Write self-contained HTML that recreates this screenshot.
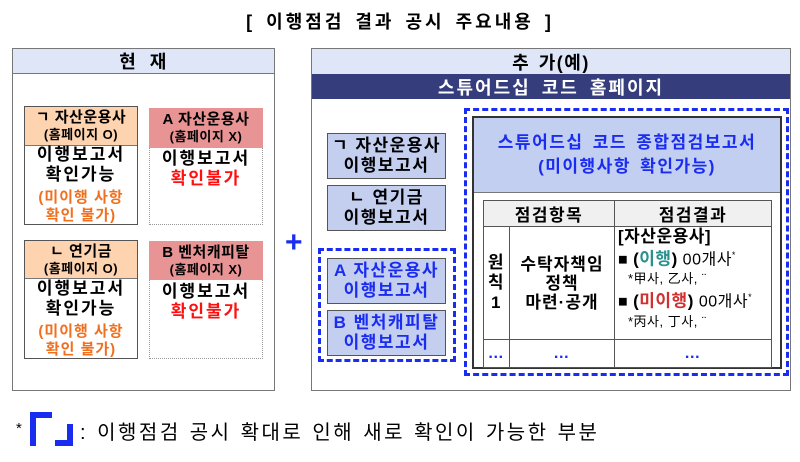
<!DOCTYPE html>
<html><head><meta charset="utf-8"><style>
*{margin:0;padding:0;box-sizing:border-box}
body{width:800px;height:462px;background:#fff;position:relative;overflow:hidden;font-family:"Liberation Sans","Noto Sans CJK KR",sans-serif;color:#000;letter-spacing:1.5px}
.a{position:absolute}
.c{display:flex;flex-direction:column;align-items:center;justify-content:center;text-align:center;white-space:nowrap}
.b{font-weight:bold}
.panel{border:1.5px solid #777;background:#fff}
.hdr{background:#dfe6f7;border-bottom:1px solid #777;font-weight:bold;font-size:18px;word-spacing:6px}
.card{border:1.5px solid #555;background:#fff}
.cardd{border:1px dotted #999;background:#fff}
.peach{background:#fdd3b0;border-bottom:1px solid #777;font-size:15px;line-height:17px;font-weight:bold;letter-spacing:0.5px}
.red{background:#e89494;font-size:15px;line-height:17px;font-weight:bold;letter-spacing:0.5px}
.body{font-size:17px;line-height:20px;font-weight:bold;letter-spacing:2px}
.sb{border:1.5px solid #555;background:#c4cff0;font-size:17px;line-height:20px;font-weight:bold;letter-spacing:1.5px}
.dash{border:3px dashed #1a2cf0}
td{border:1px solid #555;text-align:center;font-weight:bold;font-size:16px}
</style></head><body>
<div class="a b" style="left:0;top:8px;width:800px;text-align:center;font-size:18px;letter-spacing:3px;word-spacing:3px">[ 이행점검 결과 공시 주요내용 ]</div>

<div class="a panel" style="left:12px;top:48px;width:263px;height:343px"></div>
<div class="a hdr c" style="left:13px;top:49px;width:261px;height:25px">현 재</div>

<div class="a card" style="left:24px;top:106px;width:114px;height:119px"></div>
<div class="a peach c" style="left:25px;top:107px;width:112px;height:39px">ㄱ 자산운용사<span style="font-size:13px">(홈페이지 O)</span></div>
<div class="a body c" style="left:25px;top:147px;width:112px;height:76px">이행보고서<br>확인가능<span style="color:#f07020;font-size:15px;line-height:18px;margin-top:4px;letter-spacing:1px">(미이행 사항<br>확인 불가)</span></div>

<div class="a cardd" style="left:149px;top:108px;width:114px;height:117px"></div>
<div class="a red c" style="left:149px;top:108px;width:114px;height:40px">A 자산운용사<span style="font-size:13px">(홈페이지 X)</span></div>
<div class="a body c" style="left:149px;top:148px;width:114px;height:42px">이행보고서<span style="color:#ff1010">확인불가</span></div>

<div class="a card" style="left:24px;top:240px;width:114px;height:119px"></div>
<div class="a peach c" style="left:25px;top:241px;width:112px;height:38px">ㄴ 연기금<span style="font-size:13px">(홈페이지 O)</span></div>
<div class="a body c" style="left:25px;top:280px;width:112px;height:77px">이행보고서<br>확인가능<span style="color:#f07020;font-size:15px;line-height:18px;margin-top:4px;letter-spacing:1px">(미이행 사항<br>확인 불가)</span></div>

<div class="a cardd" style="left:149px;top:241px;width:114px;height:118px"></div>
<div class="a red c" style="left:149px;top:241px;width:114px;height:39px">B 벤처캐피탈<span style="font-size:13px">(홈페이지 X)</span></div>
<div class="a body c" style="left:149px;top:281px;width:114px;height:42px">이행보고서<span style="color:#ff1010">확인불가</span></div>

<div class="a b" style="left:285px;top:226px;font-size:30px;color:#1a2cf0">+</div>

<div class="a panel" style="left:311px;top:48px;width:480px;height:343px"></div>
<div class="a hdr c" style="left:312px;top:49px;width:478px;height:25px;border-bottom:none;word-spacing:2px">추 가(예)</div>
<div class="a c b" style="left:312px;top:74px;width:478px;height:25px;background:#353d7c;color:#fff;font-size:18px;letter-spacing:2px;word-spacing:4px">스튜어드십 코드 홈페이지</div>

<div class="a sb c" style="left:327px;top:133px;width:119px;height:46px">ㄱ 자산운용사<br>이행보고서</div>
<div class="a sb c" style="left:327px;top:185px;width:119px;height:46px">ㄴ 연기금<br>이행보고서</div>
<div class="a dash" style="left:318px;top:248px;width:138px;height:114px"></div>
<div class="a sb c" style="left:327px;top:258px;width:119px;height:46px;color:#1a2cf0">A 자산운용사<br>이행보고서</div>
<div class="a sb c" style="left:327px;top:310px;width:119px;height:46px;color:#1a2cf0">B 벤처캐피탈<br>이행보고서</div>

<div class="a dash" style="left:464px;top:108px;width:325px;height:268px"></div>
<div class="a" style="left:472px;top:116px;width:310px;height:253px;border:2px solid #333;background:#fff"></div>
<div class="a c b" style="left:474px;top:118px;width:306px;height:75px;background:#c2cff0;border-bottom:1px solid #777;color:#1a2cf0;font-size:17px;line-height:24px;letter-spacing:1.5px;word-spacing:3px">스튜어드십 코드 종합점검보고서<br>(미이행사항 확인가능)</div>
<table class="a" style="left:483px;top:200px;width:289px;height:168px;border-collapse:collapse">
<tr style="height:24px;background:#f0f0f0"><td colspan="2" style="font-size:17px">점검항목</td><td style="font-size:17px">점검결과</td></tr>
<tr style="height:113px"><td style="width:26px;font-size:17px;line-height:20px">원<br>칙<br>1</td><td style="width:105px;font-size:17px;line-height:19px;letter-spacing:1px">수탁자책임<br>정책<br>마련·공개</td>
<td style="text-align:left;vertical-align:top;font-weight:normal;font-size:16px;line-height:19px;padding-left:3px;letter-spacing:0.5px">
<div style="font-weight:bold;font-size:17px">[자산운용사]</div>
<div style="white-space:nowrap">■ <b style="font-size:17px">(<span style="color:#2a9090">이행</span>)</b> 00개사<sup style="font-size:9px">*</sup></div>
<div style="font-size:13px;padding-left:10px">*甲사, 乙사, ¨</div>
<div style="white-space:nowrap">■ <b style="font-size:17px">(<span style="color:#d03030">미이행</span>)</b> 00개사<sup style="font-size:9px">*</sup></div>
<div style="font-size:13px;padding-left:10px">*丙사, 丁사, ¨</div>
</td></tr>
<tr><td style="color:#1a2cf0">…</td><td style="color:#1a2cf0">…</td><td style="color:#1a2cf0">…</td></tr>
</table>

<div class="a" style="left:16px;top:420px;font-size:15px">*</div>
<div class="a" style="left:30px;top:412px;width:22px;height:6px;background:#1a2cf0"></div>
<div class="a" style="left:30px;top:412px;width:6px;height:34px;background:#1a2cf0"></div>
<div class="a" style="left:55px;top:440px;width:17px;height:6px;background:#1a2cf0"></div>
<div class="a" style="left:67px;top:424px;width:6px;height:22px;background:#1a2cf0"></div>
<div class="a" style="left:80px;top:416px;font-size:20px;letter-spacing:2.5px;word-spacing:1px;white-space:nowrap">: 이행점검 공시 확대로 인해 새로 확인이 가능한 부분</div>
</body></html>
